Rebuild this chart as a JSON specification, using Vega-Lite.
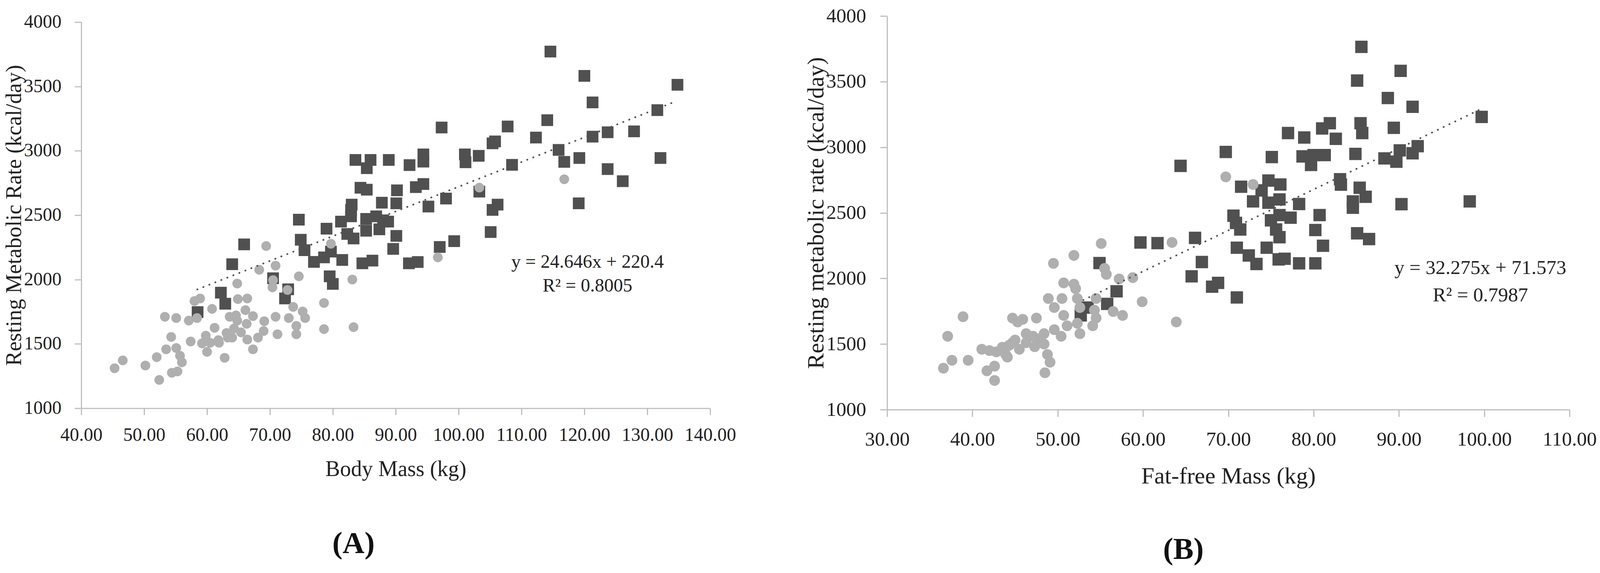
{
  "$schema": "https://vega.github.io/schema/vega-lite/v6.json",
  "background": "white",
  "padding": {"left": 8, "top": 15, "right": 10, "bottom": 10},
  "spacing": 175,
  "center": true,
  "datasets": {
    "bodyMass": [
      {"mass": 114.6, "rmr": 3771, "group": "Series 1"},
      {"mass": 120.0, "rmr": 3582, "group": "Series 1"},
      {"mass": 134.8, "rmr": 3513, "group": "Series 1"},
      {"mass": 121.3, "rmr": 3376, "group": "Series 1"},
      {"mass": 107.8, "rmr": 3189, "group": "Series 1"},
      {"mass": 114.1, "rmr": 3238, "group": "Series 1"},
      {"mass": 105.8, "rmr": 3073, "group": "Series 1"},
      {"mass": 105.4, "rmr": 3058, "group": "Series 1"},
      {"mass": 112.3, "rmr": 3103, "group": "Series 1"},
      {"mass": 121.3, "rmr": 3110, "group": "Series 1"},
      {"mass": 123.7, "rmr": 3144, "group": "Series 1"},
      {"mass": 127.9, "rmr": 3151, "group": "Series 1"},
      {"mass": 131.6, "rmr": 3316, "group": "Series 1"},
      {"mass": 115.9, "rmr": 3007, "group": "Series 1"},
      {"mass": 103.2, "rmr": 2961, "group": "Series 1"},
      {"mass": 116.8, "rmr": 2914, "group": "Series 1"},
      {"mass": 119.2, "rmr": 2944, "group": "Series 1"},
      {"mass": 132.1, "rmr": 2944, "group": "Series 1"},
      {"mass": 108.5, "rmr": 2891, "group": "Series 1"},
      {"mass": 123.7, "rmr": 2858, "group": "Series 1"},
      {"mass": 126.1, "rmr": 2764, "group": "Series 1"},
      {"mass": 119.1, "rmr": 2592, "group": "Series 1"},
      {"mass": 106.2, "rmr": 2582, "group": "Series 1"},
      {"mass": 105.4, "rmr": 2541, "group": "Series 1"},
      {"mass": 103.3, "rmr": 2683, "group": "Series 1"},
      {"mass": 97.3, "rmr": 3181, "group": "Series 1"},
      {"mass": 101.0, "rmr": 2972, "group": "Series 1"},
      {"mass": 101.1, "rmr": 2911, "group": "Series 1"},
      {"mass": 83.6, "rmr": 2929, "group": "Series 1"},
      {"mass": 86.0, "rmr": 2929, "group": "Series 1"},
      {"mass": 85.4, "rmr": 2865, "group": "Series 1"},
      {"mass": 88.9, "rmr": 2929, "group": "Series 1"},
      {"mass": 92.2, "rmr": 2889, "group": "Series 1"},
      {"mass": 94.4, "rmr": 2972, "group": "Series 1"},
      {"mass": 94.4, "rmr": 2916, "group": "Series 1"},
      {"mass": 84.4, "rmr": 2713, "group": "Series 1"},
      {"mass": 85.4, "rmr": 2698, "group": "Series 1"},
      {"mass": 90.2, "rmr": 2693, "group": "Series 1"},
      {"mass": 93.2, "rmr": 2718, "group": "Series 1"},
      {"mass": 94.4, "rmr": 2742, "group": "Series 1"},
      {"mass": 98.0, "rmr": 2629, "group": "Series 1"},
      {"mass": 95.2, "rmr": 2567, "group": "Series 1"},
      {"mass": 105.1, "rmr": 2369, "group": "Series 1"},
      {"mass": 87.8, "rmr": 2597, "group": "Series 1"},
      {"mass": 90.1, "rmr": 2592, "group": "Series 1"},
      {"mass": 83.0, "rmr": 2582, "group": "Series 1"},
      {"mass": 82.9, "rmr": 2541, "group": "Series 1"},
      {"mass": 74.6, "rmr": 2465, "group": "Series 1"},
      {"mass": 81.3, "rmr": 2450, "group": "Series 1"},
      {"mass": 82.9, "rmr": 2491, "group": "Series 1"},
      {"mass": 85.3, "rmr": 2471, "group": "Series 1"},
      {"mass": 85.3, "rmr": 2379, "group": "Series 1"},
      {"mass": 86.9, "rmr": 2491, "group": "Series 1"},
      {"mass": 88.0, "rmr": 2460, "group": "Series 1"},
      {"mass": 87.4, "rmr": 2390, "group": "Series 1"},
      {"mass": 88.8, "rmr": 2450, "group": "Series 1"},
      {"mass": 79.0, "rmr": 2395, "group": "Series 1"},
      {"mass": 82.3, "rmr": 2354, "group": "Series 1"},
      {"mass": 83.3, "rmr": 2319, "group": "Series 1"},
      {"mass": 90.1, "rmr": 2339, "group": "Series 1"},
      {"mass": 74.9, "rmr": 2309, "group": "Series 1"},
      {"mass": 75.5, "rmr": 2228, "group": "Series 1"},
      {"mass": 99.3, "rmr": 2298, "group": "Series 1"},
      {"mass": 97.0, "rmr": 2253, "group": "Series 1"},
      {"mass": 89.6, "rmr": 2238, "group": "Series 1"},
      {"mass": 78.6, "rmr": 2172, "group": "Series 1"},
      {"mass": 79.7, "rmr": 2217, "group": "Series 1"},
      {"mass": 77.0, "rmr": 2137, "group": "Series 1"},
      {"mass": 81.5, "rmr": 2152, "group": "Series 1"},
      {"mass": 84.7, "rmr": 2126, "group": "Series 1"},
      {"mass": 86.3, "rmr": 2147, "group": "Series 1"},
      {"mass": 92.1, "rmr": 2126, "group": "Series 1"},
      {"mass": 93.5, "rmr": 2136, "group": "Series 1"},
      {"mass": 65.9, "rmr": 2273, "group": "Series 1"},
      {"mass": 64.0, "rmr": 2119, "group": "Series 1"},
      {"mass": 62.2, "rmr": 1898, "group": "Series 1"},
      {"mass": 62.9, "rmr": 1812, "group": "Series 1"},
      {"mass": 58.5, "rmr": 1747, "group": "Series 1"},
      {"mass": 79.5, "rmr": 2025, "group": "Series 1"},
      {"mass": 80.0, "rmr": 1966, "group": "Series 1"},
      {"mass": 70.5, "rmr": 2010, "group": "Series 1"},
      {"mass": 72.9, "rmr": 1924, "group": "Series 1"},
      {"mass": 72.4, "rmr": 1853, "group": "Series 1"},
      {"mass": 69.4, "rmr": 2260, "group": "Series 2"},
      {"mass": 79.7, "rmr": 2278, "group": "Series 2"},
      {"mass": 68.3, "rmr": 2076, "group": "Series 2"},
      {"mass": 70.9, "rmr": 2108, "group": "Series 2"},
      {"mass": 74.6, "rmr": 2025, "group": "Series 2"},
      {"mass": 83.1, "rmr": 2000, "group": "Series 2"},
      {"mass": 64.8, "rmr": 1969, "group": "Series 2"},
      {"mass": 70.5, "rmr": 1995, "group": "Series 2"},
      {"mass": 70.4, "rmr": 1939, "group": "Series 2"},
      {"mass": 72.8, "rmr": 1919, "group": "Series 2"},
      {"mass": 78.6, "rmr": 1818, "group": "Series 2"},
      {"mass": 58.0, "rmr": 1833, "group": "Series 2"},
      {"mass": 58.9, "rmr": 1853, "group": "Series 2"},
      {"mass": 60.8, "rmr": 1772, "group": "Series 2"},
      {"mass": 64.9, "rmr": 1848, "group": "Series 2"},
      {"mass": 66.4, "rmr": 1853, "group": "Series 2"},
      {"mass": 58.4, "rmr": 1701, "group": "Series 2"},
      {"mass": 57.1, "rmr": 1681, "group": "Series 2"},
      {"mass": 55.1, "rmr": 1701, "group": "Series 2"},
      {"mass": 53.3, "rmr": 1711, "group": "Series 2"},
      {"mass": 66.1, "rmr": 1762, "group": "Series 2"},
      {"mass": 63.6, "rmr": 1711, "group": "Series 2"},
      {"mass": 64.6, "rmr": 1721, "group": "Series 2"},
      {"mass": 67.3, "rmr": 1716, "group": "Series 2"},
      {"mass": 69.1, "rmr": 1676, "group": "Series 2"},
      {"mass": 70.9, "rmr": 1711, "group": "Series 2"},
      {"mass": 73.7, "rmr": 1787, "group": "Series 2"},
      {"mass": 75.2, "rmr": 1752, "group": "Series 2"},
      {"mass": 73.0, "rmr": 1701, "group": "Series 2"},
      {"mass": 75.6, "rmr": 1701, "group": "Series 2"},
      {"mass": 78.6, "rmr": 1615, "group": "Series 2"},
      {"mass": 83.3, "rmr": 1630, "group": "Series 2"},
      {"mass": 74.2, "rmr": 1640, "group": "Series 2"},
      {"mass": 74.2, "rmr": 1575, "group": "Series 2"},
      {"mass": 71.2, "rmr": 1575, "group": "Series 2"},
      {"mass": 69.0, "rmr": 1600, "group": "Series 2"},
      {"mass": 66.3, "rmr": 1656, "group": "Series 2"},
      {"mass": 64.8, "rmr": 1681, "group": "Series 2"},
      {"mass": 64.3, "rmr": 1620, "group": "Series 2"},
      {"mass": 63.1, "rmr": 1585, "group": "Series 2"},
      {"mass": 61.2, "rmr": 1625, "group": "Series 2"},
      {"mass": 59.8, "rmr": 1564, "group": "Series 2"},
      {"mass": 59.2, "rmr": 1504, "group": "Series 2"},
      {"mass": 60.0, "rmr": 1438, "group": "Series 2"},
      {"mass": 61.9, "rmr": 1509, "group": "Series 2"},
      {"mass": 64.0, "rmr": 1549, "group": "Series 2"},
      {"mass": 65.4, "rmr": 1590, "group": "Series 2"},
      {"mass": 66.4, "rmr": 1534, "group": "Series 2"},
      {"mass": 68.1, "rmr": 1549, "group": "Series 2"},
      {"mass": 67.3, "rmr": 1458, "group": "Series 2"},
      {"mass": 62.8, "rmr": 1392, "group": "Series 2"},
      {"mass": 57.4, "rmr": 1519, "group": "Series 2"},
      {"mass": 54.3, "rmr": 1554, "group": "Series 2"},
      {"mass": 53.5, "rmr": 1458, "group": "Series 2"},
      {"mass": 55.1, "rmr": 1468, "group": "Series 2"},
      {"mass": 52.0, "rmr": 1397, "group": "Series 2"},
      {"mass": 56.0, "rmr": 1357, "group": "Series 2"},
      {"mass": 55.7, "rmr": 1408, "group": "Series 2"},
      {"mass": 54.4, "rmr": 1276, "group": "Series 2"},
      {"mass": 55.3, "rmr": 1286, "group": "Series 2"},
      {"mass": 52.4, "rmr": 1220, "group": "Series 2"},
      {"mass": 50.2, "rmr": 1332, "group": "Series 2"},
      {"mass": 46.6, "rmr": 1372, "group": "Series 2"},
      {"mass": 45.3, "rmr": 1311, "group": "Series 2"},
      {"mass": 60.5, "rmr": 1509, "group": "Series 2"},
      {"mass": 63.3, "rmr": 1549, "group": "Series 2"},
      {"mass": 61.8, "rmr": 1529, "group": "Series 2"},
      {"mass": 96.7, "rmr": 2172, "group": "Series 2"},
      {"mass": 103.3, "rmr": 2714, "group": "Series 2"},
      {"mass": 116.8, "rmr": 2779, "group": "Series 2"}
    ],
    "fatFree": [
      {"mass": 85.6, "rmr": 3765, "group": "Series 1"},
      {"mass": 90.2, "rmr": 3582, "group": "Series 1"},
      {"mass": 85.1, "rmr": 3508, "group": "Series 1"},
      {"mass": 88.7, "rmr": 3375, "group": "Series 1"},
      {"mass": 91.6, "rmr": 3308, "group": "Series 1"},
      {"mass": 89.4, "rmr": 3148, "group": "Series 1"},
      {"mass": 89.7, "rmr": 2890, "group": "Series 1"},
      {"mass": 90.1, "rmr": 2976, "group": "Series 1"},
      {"mass": 91.6, "rmr": 2954, "group": "Series 1"},
      {"mass": 92.2, "rmr": 3008, "group": "Series 1"},
      {"mass": 99.7, "rmr": 3231, "group": "Series 1"},
      {"mass": 84.6, "rmr": 2587, "group": "Series 1"},
      {"mass": 90.3, "rmr": 2566, "group": "Series 1"},
      {"mass": 98.3, "rmr": 2587, "group": "Series 1"},
      {"mass": 64.4, "rmr": 2858, "group": "Series 1"},
      {"mass": 69.7, "rmr": 2964, "group": "Series 1"},
      {"mass": 77.0, "rmr": 3108, "group": "Series 1"},
      {"mass": 78.9, "rmr": 3074, "group": "Series 1"},
      {"mass": 81.9, "rmr": 3183, "group": "Series 1"},
      {"mass": 81.0, "rmr": 3143, "group": "Series 1"},
      {"mass": 82.6, "rmr": 3064, "group": "Series 1"},
      {"mass": 85.5, "rmr": 3183, "group": "Series 1"},
      {"mass": 85.7, "rmr": 3108, "group": "Series 1"},
      {"mass": 75.1, "rmr": 2925, "group": "Series 1"},
      {"mass": 78.7, "rmr": 2930, "group": "Series 1"},
      {"mass": 80.0, "rmr": 2940, "group": "Series 1"},
      {"mass": 81.3, "rmr": 2940, "group": "Series 1"},
      {"mass": 79.7, "rmr": 2865, "group": "Series 1"},
      {"mass": 84.9, "rmr": 2949, "group": "Series 1"},
      {"mass": 88.3, "rmr": 2915, "group": "Series 1"},
      {"mass": 83.1, "rmr": 2756, "group": "Series 1"},
      {"mass": 83.2, "rmr": 2715, "group": "Series 1"},
      {"mass": 85.4, "rmr": 2691, "group": "Series 1"},
      {"mass": 86.1, "rmr": 2622, "group": "Series 1"},
      {"mass": 84.6, "rmr": 2539, "group": "Series 1"},
      {"mass": 85.1, "rmr": 2344, "group": "Series 1"},
      {"mass": 86.5, "rmr": 2300, "group": "Series 1"},
      {"mass": 71.5, "rmr": 2699, "group": "Series 1"},
      {"mass": 74.7, "rmr": 2746, "group": "Series 1"},
      {"mass": 76.1, "rmr": 2716, "group": "Series 1"},
      {"mass": 73.9, "rmr": 2671, "group": "Series 1"},
      {"mass": 72.9, "rmr": 2587, "group": "Series 1"},
      {"mass": 74.7, "rmr": 2577, "group": "Series 1"},
      {"mass": 76.0, "rmr": 2602, "group": "Series 1"},
      {"mass": 78.3, "rmr": 2567, "group": "Series 1"},
      {"mass": 70.6, "rmr": 2478, "group": "Series 1"},
      {"mass": 70.9, "rmr": 2423, "group": "Series 1"},
      {"mass": 71.4, "rmr": 2373, "group": "Series 1"},
      {"mass": 75.0, "rmr": 2443, "group": "Series 1"},
      {"mass": 76.0, "rmr": 2483, "group": "Series 1"},
      {"mass": 77.3, "rmr": 2463, "group": "Series 1"},
      {"mass": 75.6, "rmr": 2373, "group": "Series 1"},
      {"mass": 76.0, "rmr": 2314, "group": "Series 1"},
      {"mass": 80.7, "rmr": 2483, "group": "Series 1"},
      {"mass": 80.2, "rmr": 2369, "group": "Series 1"},
      {"mass": 81.1, "rmr": 2249, "group": "Series 1"},
      {"mass": 66.1, "rmr": 2309, "group": "Series 1"},
      {"mass": 61.7, "rmr": 2269, "group": "Series 1"},
      {"mass": 59.7, "rmr": 2274, "group": "Series 1"},
      {"mass": 71.0, "rmr": 2234, "group": "Series 1"},
      {"mass": 72.4, "rmr": 2175, "group": "Series 1"},
      {"mass": 73.3, "rmr": 2110, "group": "Series 1"},
      {"mass": 74.5, "rmr": 2234, "group": "Series 1"},
      {"mass": 75.9, "rmr": 2145, "group": "Series 1"},
      {"mass": 76.6, "rmr": 2150, "group": "Series 1"},
      {"mass": 78.3, "rmr": 2115, "group": "Series 1"},
      {"mass": 80.2, "rmr": 2115, "group": "Series 1"},
      {"mass": 66.9, "rmr": 2125, "group": "Series 1"},
      {"mass": 65.7, "rmr": 2016, "group": "Series 1"},
      {"mass": 68.8, "rmr": 1966, "group": "Series 1"},
      {"mass": 68.1, "rmr": 1937, "group": "Series 1"},
      {"mass": 54.9, "rmr": 2117, "group": "Series 1"},
      {"mass": 56.9, "rmr": 1902, "group": "Series 1"},
      {"mass": 55.8, "rmr": 1806, "group": "Series 1"},
      {"mass": 52.7, "rmr": 1718, "group": "Series 1"},
      {"mass": 53.5, "rmr": 1778, "group": "Series 1"},
      {"mass": 71.0, "rmr": 1855, "group": "Series 1"},
      {"mass": 55.1, "rmr": 2266, "group": "Series 2"},
      {"mass": 63.4, "rmr": 2274, "group": "Series 2"},
      {"mass": 51.9, "rmr": 2175, "group": "Series 2"},
      {"mass": 49.5, "rmr": 2115, "group": "Series 2"},
      {"mass": 55.5, "rmr": 2076, "group": "Series 2"},
      {"mass": 55.7, "rmr": 2031, "group": "Series 2"},
      {"mass": 57.2, "rmr": 1996, "group": "Series 2"},
      {"mass": 58.8, "rmr": 2006, "group": "Series 2"},
      {"mass": 59.9, "rmr": 1822, "group": "Series 2"},
      {"mass": 50.7, "rmr": 1966, "group": "Series 2"},
      {"mass": 51.9, "rmr": 1956, "group": "Series 2"},
      {"mass": 52.1, "rmr": 1922, "group": "Series 2"},
      {"mass": 52.3, "rmr": 1847, "group": "Series 2"},
      {"mass": 52.6, "rmr": 1778, "group": "Series 2"},
      {"mass": 48.9, "rmr": 1847, "group": "Series 2"},
      {"mass": 50.5, "rmr": 1847, "group": "Series 2"},
      {"mass": 49.6, "rmr": 1778, "group": "Series 2"},
      {"mass": 50.7, "rmr": 1718, "group": "Series 2"},
      {"mass": 54.5, "rmr": 1847, "group": "Series 2"},
      {"mass": 54.3, "rmr": 1758, "group": "Series 2"},
      {"mass": 54.5, "rmr": 1698, "group": "Series 2"},
      {"mass": 54.1, "rmr": 1639, "group": "Series 2"},
      {"mass": 56.5, "rmr": 1748, "group": "Series 2"},
      {"mass": 57.6, "rmr": 1718, "group": "Series 2"},
      {"mass": 63.9, "rmr": 1668, "group": "Series 2"},
      {"mass": 52.3, "rmr": 1658, "group": "Series 2"},
      {"mass": 52.6, "rmr": 1579, "group": "Series 2"},
      {"mass": 50.4, "rmr": 1559, "group": "Series 2"},
      {"mass": 51.1, "rmr": 1639, "group": "Series 2"},
      {"mass": 49.6, "rmr": 1609, "group": "Series 2"},
      {"mass": 48.4, "rmr": 1579, "group": "Series 2"},
      {"mass": 47.1, "rmr": 1559, "group": "Series 2"},
      {"mass": 46.3, "rmr": 1579, "group": "Series 2"},
      {"mass": 47.3, "rmr": 1480, "group": "Series 2"},
      {"mass": 48.4, "rmr": 1500, "group": "Series 2"},
      {"mass": 48.8, "rmr": 1420, "group": "Series 2"},
      {"mass": 49.1, "rmr": 1361, "group": "Series 2"},
      {"mass": 48.5, "rmr": 1281, "group": "Series 2"},
      {"mass": 45.5, "rmr": 1460, "group": "Series 2"},
      {"mass": 44.7, "rmr": 1510, "group": "Series 2"},
      {"mass": 44.3, "rmr": 1490, "group": "Series 2"},
      {"mass": 43.9, "rmr": 1420, "group": "Series 2"},
      {"mass": 42.8, "rmr": 1440, "group": "Series 2"},
      {"mass": 42.0, "rmr": 1450, "group": "Series 2"},
      {"mass": 41.1, "rmr": 1460, "group": "Series 2"},
      {"mass": 42.6, "rmr": 1331, "group": "Series 2"},
      {"mass": 41.7, "rmr": 1296, "group": "Series 2"},
      {"mass": 42.6, "rmr": 1222, "group": "Series 2"},
      {"mass": 39.5, "rmr": 1376, "group": "Series 2"},
      {"mass": 37.6, "rmr": 1376, "group": "Series 2"},
      {"mass": 36.6, "rmr": 1316, "group": "Series 2"},
      {"mass": 37.1, "rmr": 1559, "group": "Series 2"},
      {"mass": 38.9, "rmr": 1708, "group": "Series 2"},
      {"mass": 44.7, "rmr": 1698, "group": "Series 2"},
      {"mass": 45.9, "rmr": 1688, "group": "Series 2"},
      {"mass": 45.3, "rmr": 1668, "group": "Series 2"},
      {"mass": 47.5, "rmr": 1698, "group": "Series 2"},
      {"mass": 45.0, "rmr": 1530, "group": "Series 2"},
      {"mass": 43.5, "rmr": 1475, "group": "Series 2"},
      {"mass": 44.1, "rmr": 1400, "group": "Series 2"},
      {"mass": 46.3, "rmr": 1510, "group": "Series 2"},
      {"mass": 47.7, "rmr": 1539, "group": "Series 2"},
      {"mass": 69.7, "rmr": 2774, "group": "Series 2"},
      {"mass": 72.9, "rmr": 2716, "group": "Series 2"}
    ],
    "trendA": [
      {"mass": 58.45, "rmr": 1923},
      {"mass": 134.0, "rmr": 3374}
    ],
    "trendB": [
      {"mass": 53.0, "rmr": 1835},
      {"mass": 99.4, "rmr": 3284}
    ]
  },
  "hconcat": [
    {
      "width": 1610,
      "height": 988,
      "title": {"text": "(A)", "orient": "bottom", "anchor": "middle", "dx": -108, "offset": 124, "fontSize": 78, "fontWeight": "bold", "font": "Liberation Serif", "color": "#111111"},
      "layer": [
        {
          "data": {"name": "bodyMass"},
          "transform": [{"filter": "datum.group === 'Series 1'"}],
          "mark": {"type": "square", "size": 900, "color": "#505050", "opacity": 1},
          "encoding": {
            "x": {"field": "mass", "type": "quantitative", "scale": {"domain": [40, 140], "nice": false, "zero": false},
              "axis": {"title": "Body Mass (kg)", "values": [40, 50, 60, 70, 80, 90, 100, 110, 120, 130, 140], "format": ".2f", "labelFlush": false, "labelOverlap": false, "labelFontSize": 48, "labelPadding": 28, "titleFontSize": 56, "titlePadding": 36}},
            "y": {"field": "rmr", "type": "quantitative", "scale": {"domain": [1000, 4000], "nice": false, "zero": false},
              "axis": {"title": "Resting Metabolic Rate (kcal/day)", "values": [1000, 1500, 2000, 2500, 3000, 3500, 4000], "format": "d", "labelFlush": false, "labelOverlap": false, "labelFontSize": 48, "labelPadding": 34, "titleFontSize": 56, "titlePadding": -4}}
          }
        },
        {
          "data": {"name": "bodyMass"},
          "transform": [{"filter": "datum.group === 'Series 2'"}],
          "mark": {"type": "circle", "size": 620, "color": "#afafaf", "opacity": 1},
          "encoding": {
            "x": {"field": "mass", "type": "quantitative"},
            "y": {"field": "rmr", "type": "quantitative"}
          }
        },
        {
          "data": {"name": "trendA"},
          "mark": {"type": "line", "color": "#555555", "strokeWidth": 4.5, "strokeCap": "round", "strokeDash": [0.5, 16]},
          "encoding": {
            "x": {"field": "mass", "type": "quantitative"},
            "y": {"field": "rmr", "type": "quantitative"}
          }
        },
        {
          "data": {"values": [{}]},
          "mark": {"type": "text", "font": "Liberation Serif", "fontSize": 48, "color": "#222222", "align": "center", "baseline": "middle"},
          "encoding": {
            "x": {"datum": 120.5},
            "y": {"datum": 2135},
            "text": {"value": "y = 24.646x + 220.4"}
          }
        },
        {
          "data": {"values": [{}]},
          "mark": {"type": "text", "font": "Liberation Serif", "fontSize": 48, "color": "#222222", "align": "center", "baseline": "middle"},
          "encoding": {
            "x": {"datum": 120.5},
            "y": {"datum": 1950},
            "text": {"value": "R² = 0.8005"}
          }
        }
      ]
    },
    {
      "width": 1747,
      "height": 1007,
      "title": {"text": "(B)", "orient": "bottom", "anchor": "middle", "dx": -115, "offset": 120, "fontSize": 78, "fontWeight": "bold", "font": "Liberation Serif", "color": "#111111"},
      "layer": [
        {
          "data": {"name": "fatFree"},
          "transform": [{"filter": "datum.group === 'Series 1'"}],
          "mark": {"type": "square", "size": 1000, "color": "#505050", "opacity": 1},
          "encoding": {
            "x": {"field": "mass", "type": "quantitative", "scale": {"domain": [30, 110], "nice": false, "zero": false},
              "axis": {"title": "Fat-free Mass (kg)", "values": [30, 40, 50, 60, 70, 80, 90, 100, 110], "format": ".2f", "labelFlush": false, "labelOverlap": false, "labelFontSize": 51, "labelPadding": 33, "tickSize": 18, "titleFontSize": 60, "titlePadding": 40}},
            "y": {"field": "rmr", "type": "quantitative", "scale": {"domain": [1000, 4000], "nice": false, "zero": false},
              "axis": {"title": "Resting metabolic rate (kcal/day)", "values": [1000, 1500, 2000, 2500, 3000, 3500, 4000], "format": "d", "labelFlush": false, "labelOverlap": false, "labelFontSize": 51, "labelPadding": 36, "tickSize": 18, "titleFontSize": 60, "titlePadding": -5}}
          }
        },
        {
          "data": {"name": "fatFree"},
          "transform": [{"filter": "datum.group === 'Series 2'"}],
          "mark": {"type": "circle", "size": 760, "color": "#afafaf", "opacity": 1},
          "encoding": {
            "x": {"field": "mass", "type": "quantitative"},
            "y": {"field": "rmr", "type": "quantitative"}
          }
        },
        {
          "data": {"name": "trendB"},
          "mark": {"type": "line", "color": "#555555", "strokeWidth": 4.5, "strokeCap": "round", "strokeDash": [0.5, 16]},
          "encoding": {
            "x": {"field": "mass", "type": "quantitative"},
            "y": {"field": "rmr", "type": "quantitative"}
          }
        },
        {
          "data": {"values": [{}]},
          "mark": {"type": "text", "font": "Liberation Serif", "fontSize": 51, "color": "#222222", "align": "center", "baseline": "middle"},
          "encoding": {
            "x": {"datum": 99.55},
            "y": {"datum": 2079},
            "text": {"value": "y = 32.275x + 71.573"}
          }
        },
        {
          "data": {"values": [{}]},
          "mark": {"type": "text", "font": "Liberation Serif", "fontSize": 51, "color": "#222222", "align": "center", "baseline": "middle"},
          "encoding": {
            "x": {"datum": 99.55},
            "y": {"datum": 1870},
            "text": {"value": "R² = 0.7987"}
          }
        }
      ]
    }
  ],
  "config": {
    "view": {"stroke": null},
    "axis": {
      "grid": false,
      "domainColor": "#bfbfbf",
      "domainWidth": 3,
      "tickColor": "#bfbfbf",
      "tickWidth": 3,
      "tickSize": 17,
      "labelFont": "Liberation Serif",
      "labelColor": "#222222",
      "titleFont": "Liberation Serif",
      "titleColor": "#222222",
      "titleFontWeight": "normal"
    }
  }
}
